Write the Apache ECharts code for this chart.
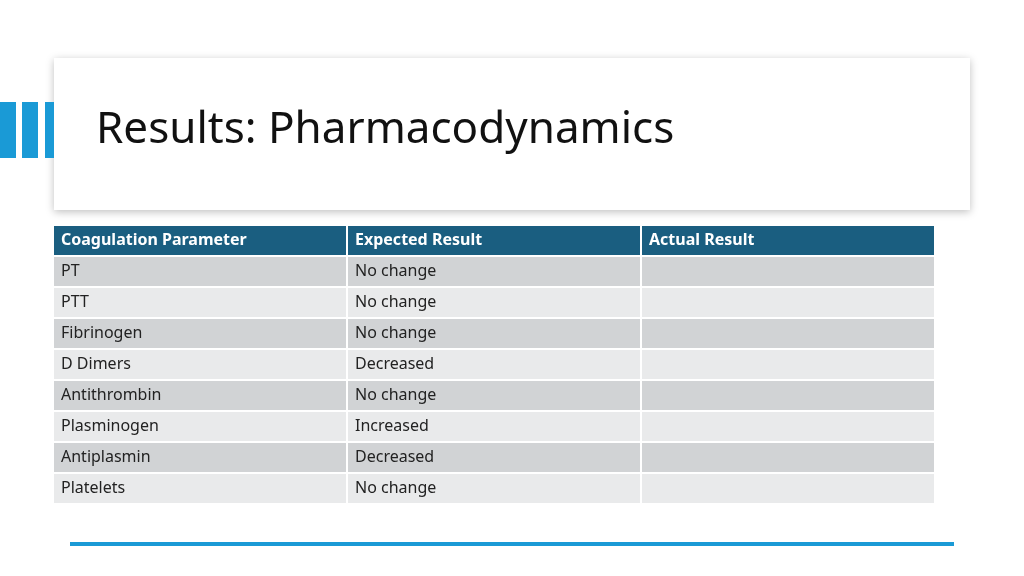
<!DOCTYPE html>
<html><head><meta charset="utf-8">
<script src="https://cdn.jsdelivr.net/npm/echarts@6/dist/echarts.min.js"></script>
<style>html,body{margin:0;padding:0;background:#fff}#c{width:1024px;height:576px}</style>
</head><body><div id="c"></div>
<script>
var columns = ['Coagulation Parameter', 'Expected Result', 'Actual Result'];
var parameters = ['PT', 'PTT', 'Fibrinogen', 'D Dimers', 'Antithrombin', 'Plasminogen', 'Antiplasmin', 'Platelets'];
var expected = ['No change', 'No change', 'No change', 'Decreased', 'No change', 'Increased', 'Decreased', 'No change'];
var actual = ['', '', '', '', '', '', '', ''];

var rows = ['header'].concat(parameters);
var cells = [];
columns.forEach(function (c, i) { cells.push([i, 0, c]); });
parameters.forEach(function (p, r) {
    cells.push([0, r + 1, p]);
    cells.push([1, r + 1, expected[r]]);
    cells.push([2, r + 1, actual[r]]);
});

var font = '"Noto Sans", sans-serif';
var chart = echarts.init(document.getElementById('c'));
chart.setOption({
    backgroundColor: '#fff',
    animation: false,
    grid: { left: 54, right: 88, top: 226, bottom: 71 },
    xAxis: { type: 'category', data: columns, show: false },
    yAxis: { type: 'category', data: rows, inverse: true, show: false },
    graphic: [
        { type: 'rect', shape: { x: 54, y: 58, width: 916, height: 152 },
          style: { fill: '#fff', shadowBlur: 8, shadowColor: 'rgba(0,0,0,0.25)', shadowOffsetY: 2 } },
        { type: 'rect', shape: { x: 0, y: 102, width: 16, height: 56 }, style: { fill: '#1a9ad6' } },
        { type: 'rect', shape: { x: 22, y: 102, width: 16, height: 56 }, style: { fill: '#1a9ad6' } },
        { type: 'rect', shape: { x: 45, y: 102, width: 9, height: 56 }, style: { fill: '#1a9ad6' } },
        { type: 'text', x: 96, y: 108, style: { text: 'Results: Pharmacodynamics', font: '44px ' + font, fill: '#111' } },
        { type: 'rect', shape: { x: 70, y: 542, width: 884, height: 4 }, style: { fill: '#1a9ad6' } }
    ],
    series: [{
        type: 'custom',
        data: cells,
        renderItem: function (params, api) {
            var col = api.value(0), row = api.value(1);
            var p = api.coord([col, row]);
            var w = api.size([1, 1]);
            var x = p[0] - w[0] / 2, y = p[1] - w[1] / 2;
            var fill = row === 0 ? '#1a5e80' : (row % 2 === 1 ? '#d1d3d5' : '#e9eaeb');
            return {
                type: 'group',
                children: [
                    { type: 'rect', shape: { x: x, y: y, width: w[0] - 2, height: w[1] - 2 }, style: { fill: fill } },
                    { type: 'text', x: x + 7, y: y + w[1] / 2 - 1,
                      style: { text: cells[params.dataIndex][2], fill: row === 0 ? '#fff' : '#222',
                               font: (row === 0 ? 'bold ' : '') + '16px ' + font, verticalAlign: 'middle' } }
                ]
            };
        }
    }]
});
</script></body></html>
